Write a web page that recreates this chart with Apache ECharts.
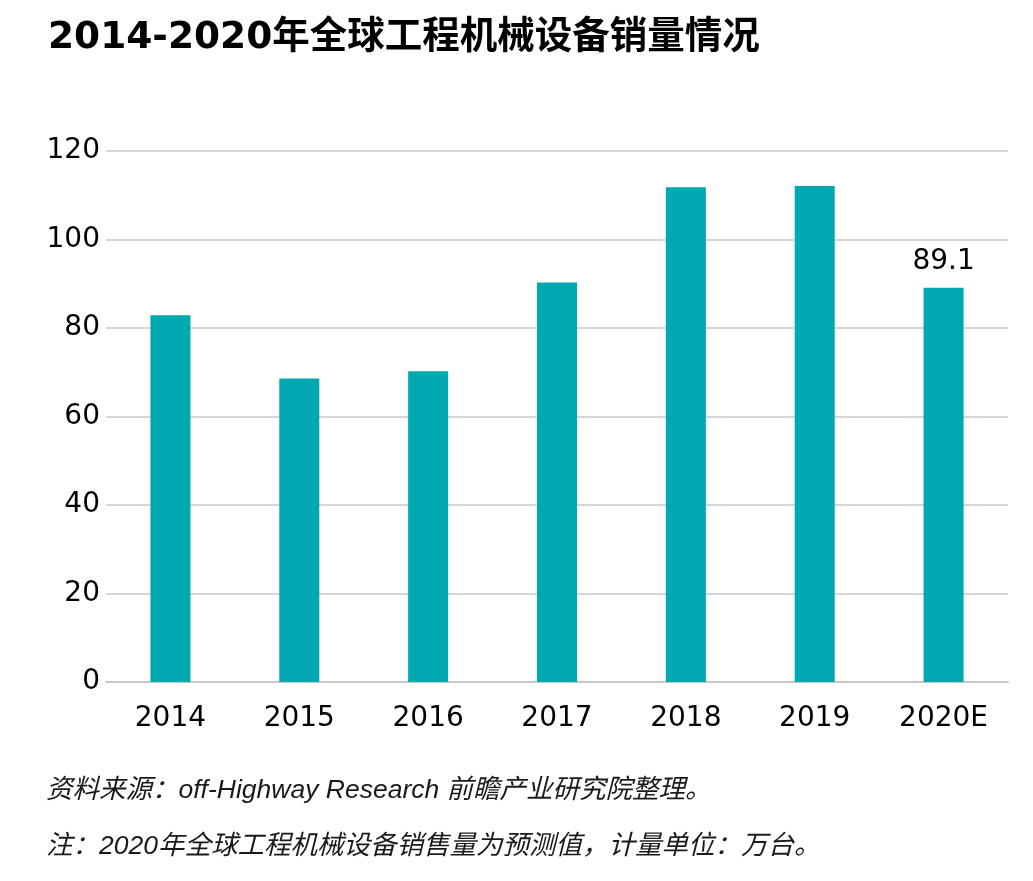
<!DOCTYPE html>
<html>
<head>
<meta charset="utf-8">
<script src="https://cdn.jsdelivr.net/npm/echarts@6/dist/echarts.min.js"></script>
<style>
html,body{margin:0;padding:0;background:#fff;}
#chart{width:1033px;height:881px;}
</style>
</head>
<body>
<div id="chart"></div>
<script>
const titleText = '2014-2020年全球工程机械设备销量情况';
const categories = ['2014', '2015', '2016', '2017', '2018', '2019', '2020E'];
const salesValues = [82.9, 68.6, 70.2, 90.3, 111.8, 112.1, 89.1];
const labeledCategory = '2020E';
const yTicks = { min: 0, max: 120, interval: 20 };
const sourceNote = '资料来源：off-Highway Research 前瞻产业研究院整理。';
const remarkNote = '注：2020年全球工程机械设备销售量为预测值，计量单位：万台。';

const chart = echarts.init(document.getElementById('chart'), null, { renderer: 'canvas' });
const font = '"DejaVu Sans", "Noto Sans CJK SC", sans-serif';
const noteFont = '"Liberation Sans", "Noto Sans CJK SC", sans-serif';

chart.setOption({
  backgroundColor: '#ffffff',
  animation: false,
  title: {
    text: titleText,
    left: 43,
    top: 15,
    textStyle: { fontFamily: font, fontSize: 37.5, fontWeight: 'bold', color: '#000' }
  },
  grid: { left: 106, right: 25, top: 151, bottom: 199, containLabel: false },
  xAxis: {
    type: 'category',
    data: categories,
    axisLine: { show: true, lineStyle: { color: '#c8c8c8', width: 2 } },
    axisTick: { show: false },
    axisLabel: { color: '#000', fontFamily: font, fontSize: 28, margin: 23 }
  },
  yAxis: {
    type: 'value',
    min: yTicks.min,
    max: yTicks.max,
    interval: yTicks.interval,
    axisLine: { show: false },
    axisTick: { show: false },
    axisLabel: { color: '#000', fontFamily: font, fontSize: 28, margin: 6 },
    splitLine: { lineStyle: { color: '#c8c8c8', width: 1.5 } }
  },
  series: [{
    type: 'bar',
    data: salesValues.map((v, i) => ({
      value: v,
      label: {
        show: categories[i] === labeledCategory,
        position: 'top',
        distance: 12,
        color: '#000',
        fontFamily: font,
        fontSize: 28
      }
    })),
    barWidth: 40,
    itemStyle: { color: '#00A9B1' }
  }],
  graphic: [
    {
      type: 'text', left: 46, top: 777,
      style: { text: sourceNote, font: 'italic 26.5px ' + noteFont, fill: '#1a1a1a' }
    },
    {
      type: 'text', left: 46, top: 833,
      style: { text: remarkNote, font: 'italic 26.5px ' + noteFont, fill: '#1a1a1a' }
    }
  ]
});
</script>
</body>
</html>
